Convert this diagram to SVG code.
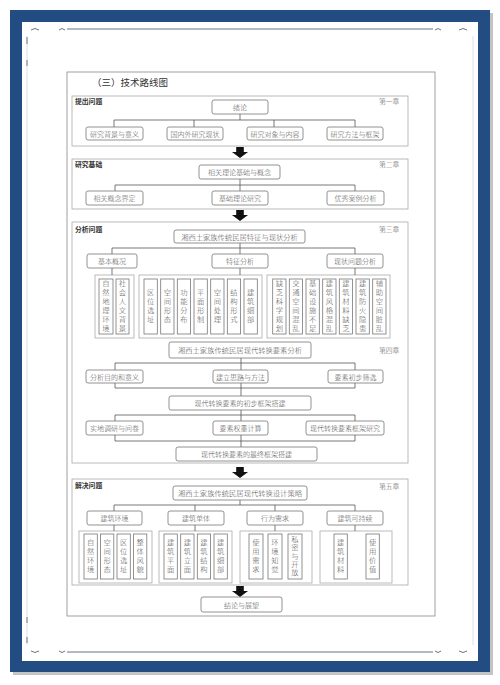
<svg xmlns="http://www.w3.org/2000/svg" xmlns:xlink="http://www.w3.org/1999/xlink" width="500" height="685" viewBox="0 0 500 685">
<style>
.t{font-family:"Noto Sans CJK SC","Noto Sans",sans-serif;font-size:7px;font-weight:300;fill:#555;text-anchor:middle;dominant-baseline:central}
.tl{font-size:7.3px}
.v{font-family:"Noto Sans CJK SC","Noto Sans",sans-serif;font-size:7.3px;font-weight:300;fill:#555;writing-mode:vertical-rl;text-anchor:middle;letter-spacing:1.6px;dominant-baseline:central}
.v5{letter-spacing:1px}
.lbl{font-family:"Noto Sans CJK SC","Noto Sans",sans-serif;font-size:6.8px;font-weight:bold;fill:#333}
.ch{font-family:"Noto Sans CJK SC","Noto Sans",sans-serif;font-size:6.8px;font-weight:300;fill:#555}
.box{fill:#fff;stroke:#777;stroke-width:0.8}
.vb{fill:#fff;stroke:#777;stroke-width:0.8}
.grp{fill:#fff;stroke:#aaa;stroke-width:0.8}
.sec{fill:#fff;stroke:#a8a8a8;stroke-width:0.8}
.ln{fill:none;stroke:#555;stroke-width:0.8}
.orn{fill:none;stroke:#6b7280;stroke-width:1}
</style>
<defs>
<path id="bigArrow" d="M-3.8 0 H3.8 V5 H8 L0 11 L-8 5 H-3.8 Z" fill="#111"/>
</defs>
<rect width="500" height="685" fill="#fff"/>
<!-- frame -->
<g id="frame">
<rect x="13" y="13" width="480" height="662" fill="#c4c4c4"/>
<rect x="10" y="10" width="480" height="662" fill="#234c82"/>
<rect x="22" y="22" width="456" height="639" fill="#fff"/>
<path class="orn" d="M67 29 H433 M67 652 H433" stroke-width="1.4"/>
<path class="orn" d="M31 30 q4 -3 8 0 M59 30 q3 -3 6 0 M435 30 q3 -3 6 0 M459 30 q4 -3 8 0 M31 651 q4 3 8 0 M59 651 q3 3 6 0 M435 651 q3 3 6 0 M459 651 q4 3 8 0"/>
<path d="M27 36 V645 M473 36 V645" stroke="#d5d8de" stroke-width="0.8"/>
<path d="M27 37 V44 M27 60 V66 M27 617 V623 M27 637 V643" stroke="#555" stroke-width="0.8"/>
</g>
<rect id="main" x="67" y="72" width="368" height="544" fill="#fff" stroke="#888" stroke-width="0.8"/>
<text x="92" y="86" font-family="Noto Sans CJK SC, sans-serif" font-size="9.5" fill="#333">（三）技术路线图</text>

<!-- sections -->
<g id="sec1"><rect class="sec" x="72" y="96" width="336" height="50"/><text class="lbl" x="75" y="104">提出问题</text><text class="ch" x="379" y="104">第一章</text></g>
<g id="sec2"><rect class="sec" x="72" y="159" width="336" height="50"/><text class="lbl" x="75" y="167">研究基础</text><text class="ch" x="379" y="167">第二章</text></g>
<g id="sec3"><rect class="sec" x="72" y="222" width="336" height="241"/><text class="lbl" x="75" y="232">分析问题</text><text class="ch" x="379" y="232">第三章</text><text class="ch" x="379" y="353">第四章</text></g>
<g id="sec4"><rect class="sec" x="72" y="479" width="336" height="106"/><text class="lbl" x="75" y="488">解决问题</text><text class="ch" x="379" y="489">第五章</text></g>

<!-- group containers -->
<g id="groups">
<rect class="grp" x="95" y="275" width="39" height="63"/>
<rect class="grp" x="139" y="275" width="123" height="63"/>
<rect class="grp" x="267" y="275" width="123" height="63"/>
<rect class="grp" x="79" y="531" width="73" height="52"/>
<rect class="grp" x="159" y="531" width="73" height="52"/>
<rect class="grp" x="240" y="531" width="72" height="52"/>
<rect class="grp" x="320" y="531" width="72" height="52"/>
</g>

<!-- connectors -->
<g id="connectors">
<path class="ln" d="M240 114 V120 M114 120 H355 M114 120 V127 M194 120 V127 M274 120 V127 M355 120 V127"/>
<path class="ln" d="M240 179 V185 M115 185 H355 M115 185 V191 M240 185 V191 M355 185 V191"/>
<path class="ln" d="M240 243 V248 M112 248 H355 M112 248 V254 M240 248 V254 M355 248 V254 M112 268 V275 M240 268 V275 M355 268 V275"/>
<path class="ln" d="M241 358 V363 M115 363 H355 M115 363 V370 M241 363 V370 M355 363 V370"/>
<path class="ln" d="M115 383 V388 H355 V383 M241 383 V396"/>
<path class="ln" d="M241 410 V415 M115 415 H355 M115 415 V421 M241 415 V421 M355 415 V421"/>
<path class="ln" d="M115 435 V441 H355 V435 M241 435 V447"/>
<path class="ln" d="M240 500 V505 M114 505 H355 M114 505 V511 M195 505 V511 M275 505 V511 M355 505 V511 M114 525 V531 M195 525 V531 M275 525 V531 M355 525 V531"/>
<use xlink:href="#bigArrow" href="#bigArrow" x="240" y="147"/>
<use xlink:href="#bigArrow" href="#bigArrow" x="240" y="210"/>
<use xlink:href="#bigArrow" href="#bigArrow" x="240" y="467"/>
<use xlink:href="#bigArrow" href="#bigArrow" x="240" y="586"/>
</g>

<!-- section 1 nodes -->
<g id="n_xulun"><rect class="box" x="212" y="100" width="56" height="14" rx="2"/><text class="t" x="240" y="107">绪论</text></g>
<g id="n_1a"><rect class="box" x="86" y="127" width="57" height="13" rx="2"/><text class="t" x="114.5" y="133.5">研究背景与意义</text></g>
<g id="n_1b"><rect class="box" x="167" y="127" width="56" height="13" rx="2"/><text class="t" x="195" y="133.5">国内外研究现状</text></g>
<g id="n_1c"><rect class="box" x="247" y="127" width="56" height="13" rx="2"/><text class="t" x="275" y="133.5">研究对象与内容</text></g>
<g id="n_1d"><rect class="box" x="327" y="127" width="56" height="13" rx="2"/><text class="t" x="355" y="133.5">研究方法与框架</text></g>

<!-- section 2 nodes -->
<g id="n_2top"><rect class="box" x="199" y="165" width="81" height="14" rx="2"/><text class="t" x="239.5" y="172">相关理论基础与概念</text></g>
<g id="n_2a"><rect class="box" x="86" y="191" width="57" height="14" rx="2"/><text class="t" x="114.5" y="198">相关概念界定</text></g>
<g id="n_2b"><rect class="box" x="212" y="191" width="56" height="14" rx="2"/><text class="t" x="240" y="198">基础理论研究</text></g>
<g id="n_2c"><rect class="box" x="327" y="191" width="57" height="14" rx="2"/><text class="t" x="355.5" y="198">优秀案例分析</text></g>

<!-- section 3 nodes -->
<g id="n_3top"><rect class="box" x="174" y="230" width="131" height="13" rx="2"/><text class="t tl" x="239.5" y="236.5">湘西土家族传统民居特征与现状分析</text></g>
<g id="n_3a"><rect class="box" x="87" y="254" width="50" height="14" rx="2"/><text class="t" x="112" y="261">基本概况</text></g>
<g id="n_3b"><rect class="box" x="212" y="254" width="56" height="14" rx="2"/><text class="t" x="240" y="261">特征分析</text></g>
<g id="n_3c"><rect class="box" x="327" y="254" width="56" height="14" rx="2"/><text class="t" x="355" y="261">现状问题分析</text></g>

<g id="n_3a1"><rect class="vb" x="99" y="279" width="14" height="55"/><text class="v" x="106" y="306.5">自然地理环境</text></g>
<g id="n_3a2"><rect class="vb" x="116" y="279" width="13" height="55"/><text class="v" x="122.5" y="306.5">社会人文背景</text></g>

<g id="n_3b1"><rect class="vb" x="144" y="279" width="13.3" height="55"/><text class="v" x="150.7" y="306.5">区位选址</text></g>
<g id="n_3b2"><rect class="vb" x="160.7" y="279" width="13.3" height="55"/><text class="v" x="167.3" y="306.5">空间形态</text></g>
<g id="n_3b3"><rect class="vb" x="177.3" y="279" width="13.3" height="55"/><text class="v" x="184" y="306.5">功能分布</text></g>
<g id="n_3b4"><rect class="vb" x="194" y="279" width="13.3" height="55"/><text class="v" x="200.7" y="306.5">平面形制</text></g>
<g id="n_3b5"><rect class="vb" x="210.7" y="279" width="13.3" height="55"/><text class="v" x="217.3" y="306.5">空间处理</text></g>
<g id="n_3b6"><rect class="vb" x="227.3" y="279" width="13.3" height="55"/><text class="v" x="234" y="306.5">结构形式</text></g>
<g id="n_3b7"><rect class="vb" x="244" y="279" width="13.3" height="55"/><text class="v" x="250.7" y="306.5">建筑细部</text></g>

<g id="n_3c1"><rect class="vb" x="272.7" y="279" width="13.3" height="55"/><text class="v" x="279.3" y="306.5">缺乏科学规划</text></g>
<g id="n_3c2"><rect class="vb" x="289.3" y="279" width="13.3" height="55"/><text class="v" x="296" y="306.5">交通空间混乱</text></g>
<g id="n_3c3"><rect class="vb" x="306" y="279" width="13.3" height="55"/><text class="v" x="312.7" y="306.5">基础设施不足</text></g>
<g id="n_3c4"><rect class="vb" x="322.7" y="279" width="13.3" height="55"/><text class="v" x="329.3" y="306.5">建筑风格混乱</text></g>
<g id="n_3c5"><rect class="vb" x="339.3" y="279" width="13.3" height="55"/><text class="v" x="346" y="306.5">建筑材料缺乏</text></g>
<g id="n_3c6"><rect class="vb" x="356" y="279" width="13.3" height="55"/><text class="v" x="362.7" y="306.5">建筑防火隐患</text></g>
<g id="n_3c7"><rect class="vb" x="372.7" y="279" width="13.3" height="55"/><text class="v" x="379.3" y="306.5">辅助空间脏乱</text></g>

<!-- chapter 4 nodes -->
<g id="n_4top"><rect class="box" x="169" y="342" width="142" height="16" rx="2"/><text class="t tl" x="240" y="350">湘西土家族传统民居现代转换要素分析</text></g>
<g id="n_4a"><rect class="box" x="86" y="370" width="57" height="13" rx="2"/><text class="t" x="114.5" y="376.5">分析目的和意义</text></g>
<g id="n_4b"><rect class="box" x="213" y="370" width="55" height="13" rx="2"/><text class="t" x="240.5" y="376.5">建立思路与方法</text></g>
<g id="n_4c"><rect class="box" x="328" y="370" width="55" height="13" rx="2"/><text class="t" x="355.5" y="376.5">要素初步筛选</text></g>
<g id="n_4mid"><rect class="box" x="169" y="396" width="142" height="14" rx="2"/><text class="t" x="240" y="403">现代转换要素的初步框架搭建</text></g>
<g id="n_4d"><rect class="box" x="86" y="421" width="57" height="14" rx="2"/><text class="t" x="114.5" y="428">实地调研与问卷</text></g>
<g id="n_4e"><rect class="box" x="213" y="421" width="55" height="14" rx="2"/><text class="t" x="240.5" y="428">要素权重计算</text></g>
<g id="n_4f"><rect class="box" x="306" y="421" width="78" height="14" rx="2"/><text class="t" x="345" y="428">现代转换要素框架研究</text></g>
<g id="n_4bot"><rect class="box" x="176" y="447" width="141" height="14" rx="2"/><text class="t" x="246.5" y="454">现代转换要素的最终框架搭建</text></g>

<!-- section 4 nodes -->
<g id="n_5top"><rect class="box" x="173" y="486" width="134" height="14" rx="2"/><text class="t tl" x="240" y="493">湘西土家族传统民居现代转换设计策略</text></g>
<g id="n_5a"><rect class="box" x="87" y="511" width="55" height="14" rx="2"/><text class="t" x="114.5" y="518">建筑环境</text></g>
<g id="n_5b"><rect class="box" x="168" y="511" width="56" height="14" rx="2"/><text class="t" x="196" y="518">建筑单体</text></g>
<g id="n_5c"><rect class="box" x="247" y="511" width="56" height="14" rx="2"/><text class="t" x="275" y="518">行为需求</text></g>
<g id="n_5d"><rect class="box" x="327" y="511" width="56" height="14" rx="2"/><text class="t" x="355" y="518">建筑可持续</text></g>

<g id="n_5a1"><rect class="vb" x="84" y="534" width="13.3" height="45"/><text class="v" x="90.7" y="556.5">自然环境</text></g>
<g id="n_5a2"><rect class="vb" x="100.5" y="534" width="13.3" height="45"/><text class="v" x="107.2" y="556.5">空间形态</text></g>
<g id="n_5a3"><rect class="vb" x="117" y="534" width="13.3" height="45"/><text class="v" x="123.7" y="556.5">区位选址</text></g>
<g id="n_5a4"><rect class="vb" x="133.5" y="534" width="13.3" height="45"/><text class="v" x="140.2" y="556.5">整体风貌</text></g>

<g id="n_5b1"><rect class="vb" x="164" y="534" width="13.3" height="45"/><text class="v" x="170.7" y="556.5">建筑平面</text></g>
<g id="n_5b2"><rect class="vb" x="180.7" y="534" width="13.3" height="45"/><text class="v" x="187.3" y="556.5">建筑立面</text></g>
<g id="n_5b3"><rect class="vb" x="197.3" y="534" width="13.3" height="45"/><text class="v" x="204" y="556.5">建筑结构</text></g>
<g id="n_5b4"><rect class="vb" x="214" y="534" width="13.3" height="45"/><text class="v" x="220.7" y="556.5">建筑细部</text></g>

<g id="n_5c1"><rect class="vb" x="249" y="534" width="14" height="45"/><text class="v" x="256" y="556.5">使用需求</text></g>
<g id="n_5c2"><rect class="vb" x="268" y="534" width="14" height="45"/><text class="v" x="275" y="556.5">环境知觉</text></g>
<g id="n_5c3"><rect class="vb" x="288" y="534" width="14" height="45"/><text class="v v5" x="295" y="556.5">私密与开放</text></g>

<g id="n_5d1"><rect class="vb" x="334" y="534" width="13.3" height="45"/><text class="v" x="340.7" y="556.5">建筑材料</text></g>
<g id="n_5d2"><rect class="vb" x="366" y="534" width="13.3" height="45"/><text class="v" x="372.7" y="556.5">使用价值</text></g>

<g id="n_end"><rect class="box" x="201" y="597" width="81" height="15" rx="2"/><text class="t" x="241.5" y="604.5">结论与展望</text></g>
</svg>
